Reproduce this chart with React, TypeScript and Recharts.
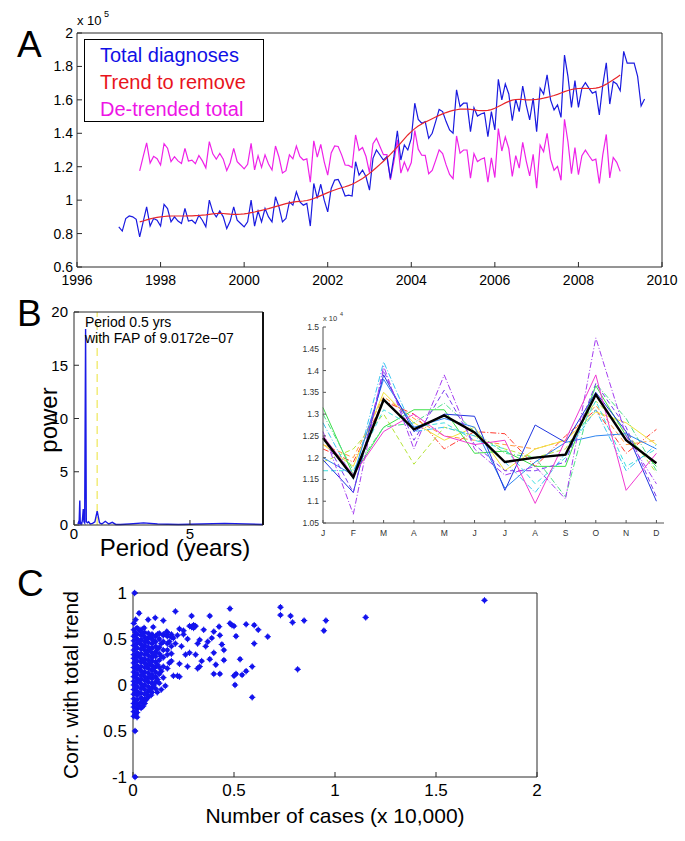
import React from 'react';
import {
  LineChart,
  Line,
  XAxis,
  YAxis,
  ReferenceLine,
  ScatterChart,
  Scatter,
  Legend,
} from 'recharts';

const FONT = '"Liberation Sans", Arial, Helvetica, sans-serif';

// ---- Panel A: monthly totals (x 10^5), Jan 1997 .. Aug 2009
const totalDiagnoses = [
  0.84, 0.815, 0.89, 0.905, 0.9, 0.885, 0.78, 0.87, 0.96, 0.845, 0.89, 0.88,
  0.845, 0.975, 0.95, 0.87, 0.9, 0.875, 0.86, 0.95, 0.875, 0.88, 0.86, 0.91,
  0.88, 0.84, 1.0, 0.93, 0.9, 0.935, 0.9, 0.83, 0.875, 0.96, 0.88, 0.86,
  0.84, 0.87, 1.0, 0.845, 0.935, 0.87, 0.95, 0.9, 0.87, 1.02, 0.96, 0.87,
  0.89, 0.99, 0.97, 1.05, 0.99, 0.97, 0.98, 0.845, 1.1, 1.01, 1.095, 1.0,
  0.93, 1.07, 1.12, 1.124, 1.08, 1.025, 1.03, 1.025, 1.23, 1.15, 1.18, 1.14,
  1.06, 1.25, 1.3, 1.27, 1.24, 1.26, 1.13, 1.26, 1.415, 1.24, 1.33, 1.3,
  1.37, 1.58, 1.483, 1.46, 1.47, 1.37, 1.4, 1.47, 1.543, 1.53, 1.47, 1.42,
  1.4, 1.66, 1.56, 1.58, 1.58, 1.41, 1.553, 1.503, 1.515, 1.523, 1.38, 1.53,
  1.42, 1.723, 1.6, 1.695, 1.635, 1.475, 1.603, 1.53, 1.683, 1.57, 1.48, 1.61,
  1.41, 1.67, 1.635, 1.75, 1.6, 1.54, 1.57, 1.495, 1.868, 1.739, 1.555, 1.715,
  1.555, 1.67, 1.703, 1.67, 1.64, 1.65, 1.51, 1.69, 1.822, 1.575, 1.71, 1.695,
  1.655, 1.89, 1.82, 1.82, 1.82, 1.74, 1.563, 1.605,
];

// trend and de-trended series start in Jul 1997 (month index 6)
const trendStartMonth = 6;
const trendToRemove = [
  0.87, 0.875, 0.882, 0.888, 0.893, 0.897,
  0.9, 0.902, 0.904, 0.905, 0.905, 0.905, 0.905, 0.905, 0.906, 0.906, 0.907, 0.908,
  0.91, 0.912, 0.915, 0.918, 0.92, 0.921, 0.92, 0.918, 0.916, 0.915, 0.915, 0.916,
  0.918, 0.921, 0.925, 0.929, 0.934, 0.939, 0.944, 0.949, 0.955, 0.961, 0.967, 0.973,
  0.979, 0.984, 0.988, 0.991, 0.993, 0.995, 0.998, 1.003, 1.01, 1.018, 1.027, 1.036,
  1.045, 1.053, 1.061, 1.068, 1.074, 1.08, 1.087, 1.095, 1.105, 1.117, 1.13, 1.144,
  1.16, 1.177, 1.195, 1.214, 1.233, 1.253, 1.274, 1.296, 1.319, 1.343, 1.367, 1.39,
  1.41, 1.428, 1.443, 1.456, 1.467, 1.477, 1.487, 1.497, 1.507, 1.516, 1.524, 1.531,
  1.537, 1.541, 1.544, 1.545, 1.545, 1.543, 1.54, 1.537, 1.535, 1.535, 1.537, 1.542,
  1.55, 1.56, 1.571, 1.582, 1.591, 1.598, 1.602, 1.603, 1.602, 1.6, 1.6, 1.601,
  1.603, 1.606, 1.61, 1.615, 1.62, 1.626, 1.633, 1.641, 1.649, 1.656, 1.662, 1.666,
  1.668, 1.669, 1.669, 1.668, 1.668, 1.67, 1.675, 1.683, 1.694, 1.707, 1.72, 1.734,
  1.748,
];
const detrendedTotal = [
  1.175, 1.26, 1.343, 1.222, 1.262, 1.248,
  1.21, 1.338, 1.311, 1.23, 1.26, 1.235, 1.22, 1.31, 1.234, 1.239, 1.218, 1.267,
  1.235, 1.193, 1.35, 1.277, 1.245, 1.279, 1.245, 1.177, 1.224, 1.31, 1.23, 1.209,
  1.187, 1.214, 1.34, 1.181, 1.266, 1.196, 1.271, 1.216, 1.18, 1.324, 1.258, 1.162,
  1.176, 1.271, 1.247, 1.324, 1.262, 1.24, 1.247, 1.107, 1.355, 1.257, 1.333, 1.229,
  1.15, 1.282, 1.324, 1.321, 1.271, 1.21, 1.208, 1.195, 1.39, 1.298, 1.315, 1.261,
  1.165, 1.338, 1.37, 1.321, 1.272, 1.272, 1.121, 1.229, 1.361, 1.162, 1.228, 1.175,
  1.225, 1.417, 1.305, 1.269, 1.268, 1.158, 1.178, 1.238, 1.301, 1.279, 1.211, 1.154,
  1.128, 1.384, 1.281, 1.3, 1.3, 1.132, 1.278, 1.231, 1.245, 1.253, 1.108, 1.253,
  1.135, 1.428, 1.294, 1.378, 1.309, 1.142, 1.266, 1.192, 1.346, 1.235, 1.145, 1.274,
  1.072, 1.329, 1.29, 1.4, 1.245, 1.179, 1.202, 1.119, 1.484, 1.348, 1.158, 1.314,
  1.152, 1.266, 1.299, 1.267, 1.237, 1.245, 1.1, 1.272, 1.393, 1.133, 1.255, 1.226,
  1.172,
];
const yearTicks = [1996, 1998, 2000, 2002, 2004, 2006, 2008, 2010];
const totalTicks = [0.6, 0.8, 1, 1.2, 1.4, 1.6, 1.8, 2];

// ---- Panel B (left): periodogram
const periodYears = [
  0.17, 0.2, 0.22, 0.25, 0.27, 0.3, 0.33, 0.36, 0.4, 0.43, 0.46, 0.5, 0.53, 0.58,
  0.63, 0.7, 0.8, 0.9, 1.0, 1.1, 1.2, 1.35, 1.5, 1.65, 1.8, 2.0, 2.4, 3.0, 3.6,
  4.5, 5.5, 6.5, 8.15,
];
const periodPower = [
  0.1, 0.3, 0.1, 2.3, 0.1, 0.2, 0.1, 0.4, 1.5, 0.3, 0.2, 18.4, 0.3, 0.2,
  0.3, 0.1, 0.15, 0.3, 1.3, 0.2, 0.1, 0.35, 0.1, 0.25, 0.05, 0.05, 0.1, 0.2, 0.1,
  0.05, 0.1, 0.15, 0.05,
];
const powerTicks = [0, 5, 10, 15, 20];

// ---- Panel B (right): monthly profile per year (x 10^4) and mean
const monthLetters = ['J', 'F', 'M', 'A', 'M', 'J', 'J', 'A', 'S', 'O', 'N', 'D'];
const yearlyProfiles = [
  [1.22, 1.19, 1.33, 1.3, 1.22, 1.26, 1.255, 1.18, 1.25, 1.31, 1.21, 1.265],
  [1.23, 1.2, 1.34, 1.29, 1.25, 1.24, 1.23, 1.22, 1.24, 1.32, 1.23, 1.24],
  [1.23, 1.18, 1.35, 1.28, 1.24, 1.27, 1.17, 1.22, 1.24, 1.305, 1.28, 1.23],
  [1.19, 1.22, 1.3, 1.185, 1.27, 1.25, 1.22, 1.2, 1.22, 1.33, 1.26, 1.165],
  [1.315, 1.16, 1.27, 1.31, 1.31, 1.21, 1.215, 1.18, 1.18, 1.365, 1.25, 1.18],
  [1.3, 1.17, 1.27, 1.28, 1.325, 1.26, 1.21, 1.2, 1.11, 1.37, 1.29, 1.17],
  [1.17, 1.17, 1.31, 1.27, 1.28, 1.24, 1.22, 1.14, 1.2, 1.33, 1.18, 1.22],
  [1.28, 1.15, 1.42, 1.26, 1.27, 1.25, 1.19, 1.12, 1.21, 1.31, 1.17, 1.23],
  [1.2, 1.16, 1.38, 1.27, 1.29, 1.27, 1.13, 1.19, 1.235, 1.25, 1.255, 1.22],
  [1.195, 1.12, 1.39, 1.26, 1.3, 1.295, 1.125, 1.275, 1.235, 1.35, 1.26, 1.1],
  [1.25, 1.12, 1.4, 1.24, 1.355, 1.23, 1.17, 1.17, 1.19, 1.37, 1.27, 1.11],
  [1.26, 1.07, 1.41, 1.22, 1.39, 1.22, 1.16, 1.18, 1.105, 1.475, 1.25, 1.14],
  [1.25, 1.16, 1.26, 1.3, 1.25, 1.23, 1.24, 1.095, 1.24, 1.39, 1.125, 1.21],
];
const monthlyMean = [1.245, 1.155, 1.333, 1.265, 1.297, 1.258, 1.19, 1.2, 1.207, 1.345, 1.24, 1.187];
const profileTicks = [1.05, 1.1, 1.15, 1.2, 1.25, 1.3, 1.35, 1.4, 1.45, 1.5];

// ---- Panel C: cases (x 10,000) vs correlation with total trend
const outlierPoints = [
  [0.008, 1.0], [0.01, -1.0], [0.01, -0.5], [0.03, 0.78], [0.11, 0.73], [0.21, 0.8],
  [0.29, 0.75], [0.38, 0.75], [0.48, 0.83], [0.73, 0.845], [0.73, 0.76], [0.78, 0.75],
  [0.79, 0.68], [0.847, 0.7], [0.955, 0.7], [0.945, 0.59], [1.152, 0.735], [1.74, 0.92],
  [0.815, 0.17], [0.59, -0.134], [0.505, 0.0], [0.667, 0.525], [0.6, 0.45], [0.6, 0.65],
  [0.56, 0.66], [0.62, 0.6], [0.5, 0.64], [0.49, 0.65], [0.51, 0.53], [0.426, 0.634],
  [0.48, 0.67], [0.43, 0.54], [0.44, 0.44], [0.45, 0.38], [0.39, 0.51], [0.37, 0.47],
  [0.38, 0.28], [0.4, 0.12], [0.43, 0.12], [0.51, 0.12], [0.53, 0.28], [0.56, 0.15],
  [0.59, 0.2], [0.5, 0.1], [0.54, 0.11], [0.34, 0.26], [0.32, 0.18], [0.31, 0.33],
  [0.33, 0.49], [0.29, 0.63], [0.3, 0.65], [0.28, 0.64], [0.31, 0.64], [0.23, 0.61],
  [0.25, 0.59], [0.26, 0.33], [0.28, 0.35], [0.23, 0.23], [0.22, 0.1], [0.23, 0.09],
  [0.2, 0.1], [0.18, 0.24], [0.19, 0.34], [0.24, 0.42], [0.2, 0.51], [0.167, 0.58],
  [0.15, 0.54], [0.16, -0.01], [0.14, -0.05], [0.12, -0.08], [0.09, -0.11], [0.065, -0.16],
  [0.05, -0.23], [0.02, -0.35], [0.013, 0.71], [0.075, 0.71], [0.1, 0.63], [0.055, 0.62],
  [0.04, 0.6], [0.15, 0.7], [0.25, 0.55], [0.27, 0.5], [0.36, 0.42], [0.32, 0.45],
  [0.35, 0.6], [0.4, 0.58], [0.4, 0.35], [0.45, 0.27], [0.41, 0.22], [0.33, 0.2],
  [0.27, 0.2], [0.3, 0.62], [0.21, 0.45], [0.22, 0.54], [0.18, 0.47], [0.17, 0.38],
];
const clusterPoints = [
  [0.004, -0.34], [0.004, -0.29], [0.004, -0.24], [0.004, -0.2], [0.004, -0.15], [0.004, -0.1],
  [0.004, -0.05], [0.004, 0.0], [0.004, 0.04], [0.004, 0.09], [0.004, 0.14], [0.004, 0.19],
  [0.004, 0.24], [0.004, 0.29], [0.004, 0.33], [0.004, 0.38], [0.004, 0.43], [0.004, 0.48],
  [0.004, 0.53], [0.004, 0.6], [0.004, 0.67],
  [0.02, -0.3], [0.02, -0.26], [0.02, -0.21], [0.02, -0.16], [0.02, -0.11], [0.02, -0.07],
  [0.02, -0.02], [0.02, 0.03], [0.02, 0.07], [0.02, 0.12], [0.02, 0.17], [0.02, 0.21],
  [0.02, 0.26], [0.02, 0.31], [0.02, 0.35], [0.02, 0.4], [0.02, 0.45], [0.02, 0.5],
  [0.02, 0.55], [0.02, 0.62],
  [0.04, -0.25], [0.04, -0.19], [0.04, -0.14], [0.04, -0.09], [0.04, -0.04], [0.04, 0.01],
  [0.04, 0.06], [0.04, 0.1], [0.04, 0.15], [0.04, 0.2], [0.04, 0.25], [0.04, 0.29],
  [0.04, 0.34], [0.04, 0.39], [0.04, 0.44], [0.04, 0.49], [0.04, 0.54], [0.04, 0.58],
  [0.058, -0.2], [0.058, -0.15], [0.058, -0.1], [0.058, -0.05], [0.058, 0.0], [0.058, 0.05],
  [0.058, 0.09], [0.058, 0.14], [0.058, 0.19], [0.058, 0.24], [0.058, 0.28], [0.058, 0.33],
  [0.058, 0.38], [0.058, 0.43], [0.058, 0.47], [0.058, 0.52], [0.058, 0.57],
  [0.076, -0.13], [0.076, -0.07], [0.076, -0.02], [0.076, 0.03], [0.076, 0.08], [0.076, 0.13],
  [0.076, 0.18], [0.076, 0.22], [0.076, 0.27], [0.076, 0.32], [0.076, 0.37], [0.076, 0.41],
  [0.076, 0.46], [0.076, 0.51], [0.076, 0.56],
  [0.094, -0.08], [0.094, -0.03], [0.094, 0.02], [0.094, 0.07], [0.094, 0.11], [0.094, 0.16],
  [0.094, 0.21], [0.094, 0.26], [0.094, 0.3], [0.094, 0.35], [0.094, 0.4], [0.094, 0.45],
  [0.094, 0.5], [0.094, 0.55],
  [0.112, -0.04], [0.112, 0.03], [0.112, 0.09], [0.112, 0.14], [0.112, 0.2], [0.112, 0.25],
  [0.112, 0.31], [0.112, 0.36], [0.112, 0.42], [0.112, 0.47], [0.112, 0.53],
  [0.13, 0.02], [0.13, 0.12], [0.13, 0.19], [0.13, 0.27], [0.13, 0.34], [0.13, 0.41],
  [0.13, 0.5], [0.13, 0.56],
  [0.15, 0.08], [0.15, 0.2], [0.15, 0.3], [0.15, 0.38], [0.15, 0.47], [0.15, 0.55],
  [0.17, 0.18], [0.17, 0.33], [0.17, 0.45], [0.17, 0.53], [0.17, 0.57],
  [0.19, 0.26], [0.19, 0.42], [0.19, 0.55], [0.19, 0.52],
  [0.012, -0.32], [0.012, -0.18], [0.012, -0.03], [0.012, 0.11], [0.012, 0.27], [0.012, 0.42],
  [0.012, 0.57], [0.03, -0.23], [0.03, -0.09], [0.03, 0.05], [0.03, 0.19], [0.03, 0.33],
  [0.03, 0.47], [0.03, 0.6], [0.049, -0.17], [0.049, -0.02], [0.049, 0.12], [0.049, 0.27],
  [0.049, 0.41], [0.049, 0.56], [0.067, -0.1], [0.067, 0.06], [0.067, 0.2], [0.067, 0.35],
  [0.067, 0.49], [0.085, -0.05], [0.085, 0.1], [0.085, 0.24], [0.085, 0.39], [0.085, 0.53],
  [0.103, 0.0], [0.103, 0.18], [0.103, 0.33], [0.103, 0.48], [0.121, 0.06], [0.121, 0.22],
  [0.121, 0.39], [0.121, 0.55], [0.14, 0.15], [0.14, 0.31], [0.14, 0.45],
];
const casesTicks = [0, 0.5, 1, 1.5, 2];
const corrTicks = [-1, -0.5, 0, 0.5, 1];

// ---- tables for the library
const seriesA = totalDiagnoses.map((v, i) => ({
  t: 1997 + i / 12,
  total: v,
  trend: trendToRemove[i - trendStartMonth] ?? null,
  detrended: detrendedTotal[i - trendStartMonth] ?? null,
}));
const periodogram = periodYears.map((p, i) => ({ period: p, power: periodPower[i] }));
const profileRows = monthLetters.map((_, m) => {
  const row: Record<string, number> = { month: m + 1, mean: monthlyMean[m] };
  yearlyProfiles.forEach((prof, k) => {
    row['y' + k] = prof[m];
  });
  return row;
});
const scatterRows = [...clusterPoints, ...outlierPoints].map(([x, y]) => ({ x, y }));

const profileStyles = [
  { color: '#ff3b2f', dash: '6 2 1 2' },
  { color: '#ff9a3a', dash: '5 3' },
  { color: '#f2e23a', dash: undefined },
  { color: '#b6e53a', dash: '5 3' },
  { color: '#3ee04a', dash: undefined },
  { color: '#4fe08a', dash: '6 2 1 2' },
  { color: '#3fe0e0', dash: '5 3' },
  { color: '#3cc6f2', dash: '6 2 1 2' },
  { color: '#2f86f0', dash: undefined },
  { color: '#2036e0', dash: undefined },
  { color: '#7a3cf0', dash: '5 3' },
  { color: '#a43cf0', dash: '6 2 1 2' },
  { color: '#f03ad2', dash: undefined },
];

const AX = '#2a2a2a';
const axisLine = { stroke: AX, strokeWidth: 1 };
const tickLine = { stroke: AX, strokeWidth: 1 };

function StarDot(props: any) {
  const { cx, cy } = props;
  if (cx == null || cy == null) return null;
  return (
    <g>
      <circle cx={cx} cy={cy} r={2.4} fill="#1414ee" />
      <path
        d={`M${cx - 3.2},${cy}H${cx + 3.2}M${cx},${cy - 3.2}V${cy + 3.2}`}
        stroke="#1414ee"
        strokeWidth={1}
      />
    </g>
  );
}

function LegendBox() {
  const items = [
    { text: 'Total diagnoses', color: '#1010e6' },
    { text: 'Trend to remove', color: '#e8141c' },
    { text: 'De-trended total', color: '#ee14e6' },
  ];
  return (
    <div
      style={{
        width: 180,
        height: 83,
        boxSizing: 'border-box',
        border: '1.6px solid #000',
        background: '#fff',
        paddingLeft: 15,
        paddingTop: 2,
        fontFamily: FONT,
        fontSize: 20,
        lineHeight: '27px',
        textAlign: 'left',
      }}
    >
      {items.map((it) => (
        <div key={it.text} style={{ color: it.color, whiteSpace: 'nowrap' }}>
          {it.text}
        </div>
      ))}
    </div>
  );
}

function PanelA() {
  // plot area: x 77..662, y 33..267 (axes are 1px thick boxes)
  return (
    <div style={{ position: 'absolute', left: 0, top: 0 }}>
      <LineChart width={685} height={300} data={seriesA} margin={{ top: 32, right: 22, bottom: 32, left: 76 }}>
        <XAxis
          dataKey="t"
          type="number"
          domain={[1996, 2010]}
          ticks={yearTicks}
          interval={0}
          height={1}
          tickSize={-5}
          tickMargin={13}
          axisLine={axisLine}
          tickLine={tickLine}
          tick={{ fill: '#000', fontSize: 14, fontFamily: FONT }}
        />
        <XAxis
          xAxisId="top"
          orientation="top"
          type="number"
          domain={[1996, 2010]}
          ticks={yearTicks}
          interval={0}
          height={1}
          tickSize={-5}
          axisLine={axisLine}
          tickLine={tickLine}
          tick={false}
        />
        <YAxis
          type="number"
          domain={[0.6, 2]}
          ticks={totalTicks}
          interval={0}
          width={1}
          tickSize={-5}
          tickMargin={9}
          axisLine={axisLine}
          tickLine={tickLine}
          tick={{ fill: '#000', fontSize: 14, fontFamily: FONT }}
        />
        <YAxis
          yAxisId="right"
          orientation="right"
          type="number"
          domain={[0.6, 2]}
          ticks={totalTicks}
          interval={0}
          width={1}
          tickSize={-5}
          axisLine={axisLine}
          tickLine={tickLine}
          tick={false}
        />
        <Legend
          layout="vertical"
          align="center"
          verticalAlign="middle"
          wrapperStyle={{ left: 84, top: 39, width: 180 }}
          content={() => <LegendBox />}
        />
        <Line dataKey="detrended" stroke="#ee22e8" strokeWidth={1.2} dot={false} isAnimationActive={false} />
        <Line dataKey="total" stroke="#1a1ae0" strokeWidth={1.2} dot={false} isAnimationActive={false} />
        <Line dataKey="trend" stroke="#e8262a" strokeWidth={1.2} dot={false} isAnimationActive={false} />
      </LineChart>
    </div>
  );
}

function PanelBPeriod() {
  // plot area: x 74..263, y 312..525
  return (
    <div style={{ position: 'absolute', left: 0, top: 290 }}>
      <LineChart width={300} height={280} data={periodogram} margin={{ top: 21, right: 36, bottom: 44, left: 73 }}>
        <XAxis
          dataKey="period"
          type="number"
          domain={[0, 8.15]}
          ticks={[0, 5]}
          interval={0}
          height={1}
          tickSize={-5}
          tickMargin={8}
          axisLine={axisLine}
          tickLine={tickLine}
          tick={{ fill: '#000', fontSize: 15, fontFamily: FONT }}
        />
        <XAxis
          xAxisId="top"
          orientation="top"
          type="number"
          domain={[0, 8.15]}
          ticks={[0, 5]}
          interval={0}
          height={1}
          tickSize={-5}
          axisLine={axisLine}
          tickLine={tickLine}
          tick={false}
        />
        <YAxis
          type="number"
          domain={[0, 20]}
          ticks={powerTicks}
          interval={0}
          width={1}
          tickSize={-5}
          tickMargin={11}
          axisLine={axisLine}
          tickLine={tickLine}
          tick={{ fill: '#000', fontSize: 15, fontFamily: FONT }}
        />
        <YAxis
          yAxisId="right"
          orientation="right"
          type="number"
          domain={[0, 20]}
          ticks={powerTicks}
          interval={0}
          width={1}
          tickSize={-5}
          axisLine={{ stroke: '#111', strokeWidth: 2 }}
          tickLine={tickLine}
          tick={false}
        />
        <ReferenceLine x={1} stroke="#f2ec7a" strokeWidth={1.5} strokeDasharray="8 5" />
        <Line dataKey="power" type="linear" stroke="#1a1ae6" strokeWidth={1.4} dot={false} isAnimationActive={false} />
      </LineChart>
    </div>
  );
}

function PanelBMonths() {
  // plot area: x 323..663, y 327..523
  return (
    <div style={{ position: 'absolute', left: 300, top: 290 }}>
      <LineChart width={385} height={270} data={profileRows} margin={{ top: 37, right: 21, bottom: 36, left: 22 }}>
        <XAxis
          dataKey="month"
          type="number"
          domain={[1, 12.25]}
          ticks={[1, 2, 3, 4, 5, 6, 7, 8, 9, 10, 11, 12]}
          interval={0}
          height={1}
          tickSize={-3}
          tickMargin={10}
          tickFormatter={(v) => monthLetters[v - 1] ?? ''}
          axisLine={{ stroke: '#555', strokeWidth: 1 }}
          tickLine={{ stroke: '#555', strokeWidth: 1 }}
          tick={{ fill: '#333', fontSize: 8.5, fontFamily: FONT }}
        />
        <YAxis
          type="number"
          domain={[1.05, 1.5]}
          ticks={profileTicks}
          interval={0}
          width={1}
          tickSize={-3}
          tickMargin={7}
          axisLine={{ stroke: '#555', strokeWidth: 1 }}
          tickLine={{ stroke: '#555', strokeWidth: 1 }}
          tick={{ fill: '#333', fontSize: 8.5, fontFamily: FONT }}
        />
        {profileStyles.map((s, k) => (
          <Line
            key={k}
            dataKey={'y' + k}
            stroke={s.color}
            strokeDasharray={s.dash}
            strokeWidth={1}
            dot={false}
            isAnimationActive={false}
          />
        ))}
        <Line dataKey="mean" stroke="#000" strokeWidth={2.4} dot={false} isAnimationActive={false} />
      </LineChart>
    </div>
  );
}

function PanelC() {
  // plot area: x 133..537, y 593..777
  return (
    <div style={{ position: 'absolute', left: 0, top: 560 }}>
      <ScatterChart width={685} height={281} margin={{ top: 32, right: 147, bottom: 63, left: 132 }}>
        <XAxis
          dataKey="x"
          type="number"
          domain={[0, 2]}
          ticks={casesTicks}
          interval={0}
          height={1}
          tickSize={-5}
          tickMargin={12}
          axisLine={axisLine}
          tickLine={tickLine}
          tick={{ fill: '#000', fontSize: 17, fontFamily: FONT }}
        />
        <XAxis
          xAxisId="top"
          orientation="top"
          type="number"
          domain={[0, 2]}
          ticks={casesTicks}
          interval={0}
          height={1}
          tickSize={-5}
          axisLine={axisLine}
          tickLine={tickLine}
          tick={false}
        />
        <YAxis
          dataKey="y"
          type="number"
          domain={[-1, 1]}
          ticks={corrTicks}
          interval={0}
          width={1}
          tickSize={-5}
          tickMargin={11}
          tickFormatter={(v) => (v === -0.5 ? '0.5' : String(v))}
          axisLine={axisLine}
          tickLine={tickLine}
          tick={{ fill: '#000', fontSize: 17, fontFamily: FONT }}
        />
        <YAxis
          yAxisId="right"
          orientation="right"
          type="number"
          domain={[-1, 1]}
          ticks={corrTicks}
          interval={0}
          width={1}
          tickSize={-5}
          axisLine={axisLine}
          tickLine={tickLine}
          tick={false}
        />
        <Scatter data={scatterRows} shape={StarDot} isAnimationActive={false} />
      </ScatterChart>
    </div>
  );
}

function Overlay() {
  const t = { fontFamily: FONT, fill: '#000' };
  return (
    <svg
      width={685}
      height={841}
      style={{ position: 'absolute', left: 0, top: 0, pointerEvents: 'none' }}
    >
      <text x={17} y={57} fontSize={37} {...t}>A</text>
      <text x={77} y={25} fontSize={13} {...t}>x 10</text>
      <text x={104} y={17} fontSize={9} {...t}>5</text>

      <text x={17} y={326} fontSize={37} {...t}>B</text>
      <text x={85} y={327} fontSize={14} {...t}>Period 0.5 yrs</text>
      <text x={85} y={343} fontSize={14} {...t}>with FAP of 9.0172e−07</text>
      <text x={0} y={0} fontSize={24} textAnchor="middle" transform="translate(57,420) rotate(-90)" {...t}>power</text>
      <text x={175} y={556} fontSize={24} textAnchor="middle" {...t}>Period (years)</text>

      <text x={323} y={321} fontSize={7.5} fill="#333" fontFamily={FONT}>x 10</text>
      <text x={340} y={316} fontSize={5.5} fill="#333" fontFamily={FONT}>4</text>

      <text x={17} y={596} fontSize={37} {...t}>C</text>
      <text x={0} y={0} fontSize={21} textAnchor="middle" transform="translate(78,685) rotate(-90)" {...t}>Corr. with total trend</text>
      <text x={335} y={823} fontSize={21} textAnchor="middle" {...t}>Number of cases (x 10,000)</text>
    </svg>
  );
}

export default function App() {
  return (
    <div
      style={{
        position: 'absolute',
        left: 0,
        top: 0,
        width: 685,
        height: 841,
        background: '#fff',
        overflow: 'hidden',
        fontFamily: FONT,
      }}
    >
      <PanelA />
      <PanelBPeriod />
      <PanelBMonths />
      <PanelC />
      <Overlay />
    </div>
  );
}
